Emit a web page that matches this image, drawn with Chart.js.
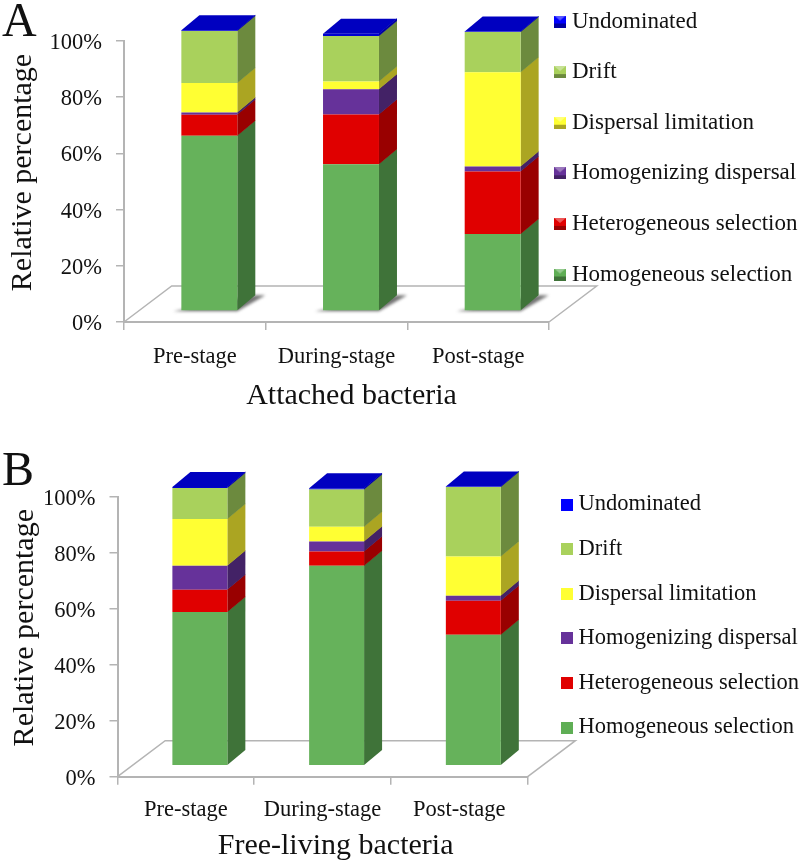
<!DOCTYPE html>
<html><head><meta charset="utf-8">
<style>html,body{margin:0;padding:0;background:#fff;width:800px;height:865px;overflow:hidden}
canvas{position:absolute;left:0;display:block}</style>
<script src="https://cdn.jsdelivr.net/npm/chart.js@4"></script>
</head><body>
<canvas id="a" width="800" height="432" style="top:0"></canvas>
<canvas id="b" width="800" height="433" style="top:432px"></canvas>
<script>
const stages = ['Pre-stage','During-stage','Post-stage'];
const seriesNames = ['Homogeneous selection','Heterogeneous selection','Homogenizing dispersal','Dispersal limitation','Drift','Undominated'];
const frontColors = ['#66B25B','#E00000','#66329A','#FFFF33','#A9D15C','#0000D0'];
const sideColors  = ['#3F7339','#990000','#432266','#ABA522','#6C8A3E','#0000A0'];
const legendColors= ['#5FAE55','#E00000','#66329A','#FFFF33','#A9D15C','#0000FF'];
const topColor = '#0000C0';
const axisColor = '#B4B4B4';
const yTicks = [0,20,40,60,80,100];

const aHomogeneous = [62.4,52.2,27.4];
const aHeterogeneous = [7.4,17.7,22.2];
const aHomogenizing = [0.8,9.0,1.8];
const aLimitation = [10.5,2.8,33.6];
const aDrift = [18.5,16.2,14.3];
const aUndominated = [0.3,0.8,0.2];

const bHomogeneous = [54.9,71.4,46.8];
const bHeterogeneous = [7.9,5.1,12.1];
const bHomogenizing = [8.6,3.6,1.8];
const bLimitation = [16.7,5.2,14.0];
const bDrift = [11.1,13.3,24.8];
const bUndominated = [0.3,0.5,0.2];

function marker(i, bevel){
  const c=document.createElement('canvas');c.width=12;c.height=12;
  const x=c.getContext('2d');
  x.fillStyle=legendColors[i];x.fillRect(0,0,12,12);
  if(bevel){
    x.fillStyle=sideColors[i];x.fillRect(0,8,12,4);
    x.fillStyle='rgba(255,255,255,.35)';
    x.beginPath();x.moveTo(0,0);x.lineTo(12,0);x.lineTo(6,5);x.fill();
  }
  return c;
}

function build(id, values, cfg){
  const markers = seriesNames.map((_,i)=>marker(i,cfg.bevel));
  const plugin = {
    id:'solid',
    beforeLayout(chart){
      const lg=chart.legend;
      if(lg && !lg._wrapped){
        const f=lg.fit;
        lg.fit=function(){f.call(this);this.width=0;};
        lg._wrapped=true;
      }
    },
    afterLayout(chart){
      const lg=chart.legend, p=cfg.legendStep-cfg.legendFont;
      lg.left=cfg.legendX-p; lg.right=chart.width;
      lg.top=cfg.legendY-cfg.legendFont/2-p; lg.bottom=chart.height;
      lg.width=lg.right-lg.left; lg.height=lg.bottom-lg.top;
      [[chart.scales.x,cfg.xTitleShift,0],[chart.scales.y,0,cfg.yTitleShift]].forEach(([s,dx,dy])=>{
        if(s._wrappedTitle) return;
        s._wrappedTitle=true;
        const o=s.drawTitle;
        s.drawTitle=function(){const c=this.ctx;c.save();c.translate(dx,dy);o.call(this);c.restore();};
      });
      const ys=chart.scales.y;
      if(!ys._wrappedLabels){
        ys._wrappedLabels=true;
        const ol=ys.drawLabels;
        ys.drawLabels=function(a){const c=this.ctx;c.save();c.translate(0,2);ol.call(this,a);c.restore();};
      }
    },
    beforeDatasetsDraw(chart){
      const c=chart.ctx, a=chart.chartArea;
      c.save();
      c.strokeStyle=axisColor;c.lineWidth=1.5;
      c.beginPath();
      c.moveTo(a.left,a.bottom);c.lineTo(a.left+cfg.floorX,a.bottom-cfg.floorY);
      c.lineTo(a.right+cfg.floorX,a.bottom-cfg.floorY);c.lineTo(a.right,a.bottom);
      c.stroke();
      c.restore();
      c.save();
      c.translate(cfg.shiftX,cfg.shiftY);
      const n=chart.data.datasets.length;
      chart.data.labels.forEach((_,k)=>{
        const base=chart.getDatasetMeta(0).data[k].getProps(['x','base','width']);
        const xr=base.x+base.width/2, xl=base.x-base.width/2;
        if(cfg.shadow){
          c.save();
          c.filter='blur(1.5px)';
          c.fillStyle='rgba(70,70,70,.75)';
          c.beginPath();
          c.moveTo(xl-8,base.base+1);c.lineTo(xr,base.base+1);
          c.lineTo(xr+cfg.dx+10,base.base-cfg.dy);c.lineTo(xr+cfg.dx,base.base-cfg.dy);
          c.closePath();c.fill();
          c.restore();
        }
        for(let d=0;d<n;d++){
          const el=chart.getDatasetMeta(d).data[k].getProps(['x','y','base','width']);
          c.fillStyle=sideColors[d];
          c.beginPath();
          c.moveTo(xr,el.base);c.lineTo(xr+cfg.dx,el.base-cfg.dy);
          c.lineTo(xr+cfg.dx,el.y-cfg.dy-.5);c.lineTo(xr,el.y-.5);
          c.closePath();c.fill();
          if(d===n-1){
            c.fillStyle=topColor;
            c.beginPath();
            c.moveTo(xl,el.y);c.lineTo(xr,el.y);
            c.lineTo(xr+cfg.dx,el.y-cfg.dy);c.lineTo(xl+cfg.dx,el.y-cfg.dy);
            c.closePath();c.fill();
          }
        }
      });
    },
    afterDatasetsDraw(chart){ chart.ctx.restore(); },
    afterDraw(chart){
      const c=chart.ctx;
      c.save();
      c.fillStyle='#111';
      c.font='48px "Liberation Serif"';
      c.textAlign='left';c.textBaseline='alphabetic';
      c.fillText(cfg.panel,cfg.panelX,cfg.panelY);
      c.restore();
    }
  };
  const serif='"Liberation Serif"';
  return new Chart(document.getElementById(id),{
    type:'bar',
    data:{labels:stages,datasets:seriesNames.map((name,i)=>({
      label:name,data:values[i],backgroundColor:frontColors[i],borderWidth:0,
      barPercentage:cfg.barPct,categoryPercentage:1,clip:false
    }))},
    plugins:[plugin],
    options:{
      responsive:false,animation:false,devicePixelRatio:1,
      layout:{padding:{top:cfg.top,right:cfg.right,left:0,bottom:0}},
      plugins:{
        tooltip:{enabled:false},
        title:{display:false},
        legend:{
          display:true,position:'right',align:'start',reverse:true,
          labels:{
            color:'#111',font:{family:serif,size:cfg.legendFont},
            usePointStyle:true,boxWidth:1,boxHeight:12,padding:cfg.legendStep-cfg.legendFont,
            generateLabels(chart){
              return Chart.defaults.plugins.legend.labels.generateLabels(chart)
                .map(l=>Object.assign(l,{pointStyle:markers[l.datasetIndex]}));
            }
          }
        }
      },
      scales:{
        x:{
          stacked:true,
          afterFit(s){s.height=cfg.xHeight;},
          grid:{display:true,offset:true,drawOnChartArea:false,drawTicks:true,tickLength:8,color:axisColor,lineWidth:1.5},
          border:{display:true,color:axisColor,width:2},
          ticks:{color:'#111',font:{family:serif,size:22.5},padding:cfg.xTickPad,maxRotation:0,autoSkip:false},
          title:{display:true,text:cfg.xTitle,color:'#111',font:{family:serif,size:30},padding:{top:0,bottom:cfg.xTitlePad}}
        },
        y:{
          stacked:true,min:0,max:100,
          afterFit(s){s.width=cfg.yWidth;},
          afterBuildTicks(s){s.ticks=yTicks.map(v=>({value:v}));},
          grid:{display:true,drawOnChartArea:false,drawTicks:true,tickLength:8,color:axisColor,lineWidth:1.5},
          border:{display:true,color:axisColor,width:2},
          ticks:{color:'#111',font:{family:serif,size:22.5},padding:cfg.yTickPad,callback:v=>v+'%'},
          title:{display:true,text:'Relative percentage',color:'#111',font:{family:serif,size:30},padding:{top:cfg.yTitlePad,bottom:0}}
        }
      }
    }
  });
}

build('a',[aHomogeneous,aHeterogeneous,aHomogenizing,aLimitation,aDrift,aUndominated],{
  panel:'A',panelX:2,panelY:36,bevel:true,shadow:true,
  top:41,right:251,yWidth:124,xHeight:110,barPct:.395,
  shiftX:14.5,shiftY:-11,dx:18,dy:15,floorX:47.7,floorY:36,
  legendFont:23,legendStep:50.6,legendX:559.5,legendY:21.5,
  xTitle:'Attached bacteria',xTitleShift:15,yTitleShift:-9,
  xTitlePad:18,xTickPad:14,yTickPad:14,yTitlePad:5
});
build('b',[bHomogeneous,bHeterogeneous,bHomogenizing,bLimitation,bDrift,bUndominated],{
  panel:'B',panelX:2,panelY:53,bevel:false,shadow:false,
  top:64.7,right:272.3,yWidth:117.5,xHeight:88.3,barPct:.402,
  shiftX:14,shiftY:-11,dx:18,dy:15,floorX:47.7,floorY:36,
  legendFont:22.5,legendStep:44.6,legendX:566.2,legendY:72.5,
  xTitle:'Free-living bacteria',xTitleShift:13,yTitleShift:-9,
  xTitlePad:1,xTickPad:12,yTickPad:14,yTitlePad:7
});
</script>
</body></html>
